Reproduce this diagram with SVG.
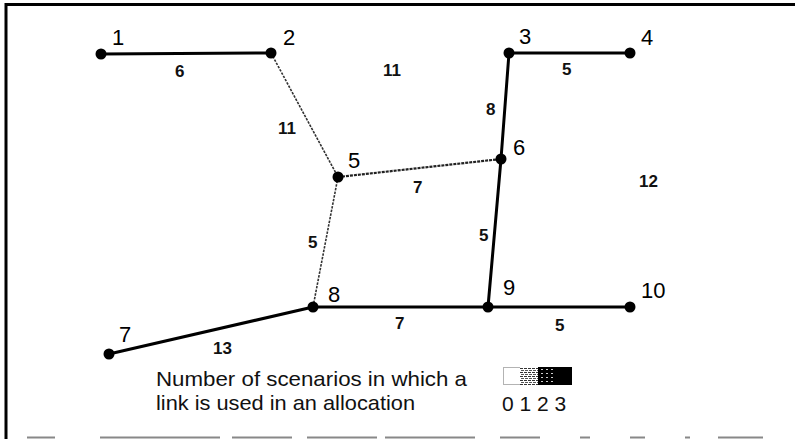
<svg xmlns="http://www.w3.org/2000/svg" width="795" height="439" viewBox="0 0 795 439">
<defs>
<style>
.nl{font-family:"Liberation Sans",Arial,sans-serif;font-size:22px;fill:#000}
.el{font-family:"Liberation Sans",Arial,sans-serif;font-size:17px;font-weight:bold;fill:#111}
.lg{font-family:"Liberation Sans",Arial,sans-serif;font-size:21px;fill:#111}
.e3{stroke:#000;stroke-width:3;fill:none;stroke-linecap:round}
.e2{stroke:#222;stroke-width:2.2;fill:none;stroke-dasharray:3 1}
.e1{stroke:#333;stroke-width:1.6;fill:none;stroke-dasharray:2.5 1.2}
.dot{fill:#000}
</style>
<pattern id="p1" width="4" height="4" patternUnits="userSpaceOnUse">
<rect width="4" height="4" fill="#fff"/>
<rect width="3" height="1" fill="#333"/>
<rect y="2" x="1" width="3" height="1" fill="#555"/>
</pattern>
<pattern id="p2" width="5" height="4" patternUnits="userSpaceOnUse">
<rect width="5" height="4" fill="#000"/>
<rect x="1" y="1" width="2" height="1" fill="#ccc"/>
</pattern>
</defs>
<rect width="795" height="439" fill="#fff"/>
<g id="frame">
<line x1="5" y1="4.5" x2="795" y2="4.5" stroke="#000" stroke-width="3"/>
<line x1="6" y1="3" x2="6" y2="439" stroke="#000" stroke-width="3"/>
<line x1="27" y1="437.5" x2="790" y2="437.5" stroke="#888" stroke-width="2" stroke-dasharray="28 45 120 12 60 15 70 8 90 25 40 40 10 40 15 40 5"/>
</g>
<g id="connectors">
<line id="e1-2" class="e3" x1="101" y1="54" x2="271" y2="53"/>
<line id="e2-5" class="e1" x1="271" y1="53" x2="338" y2="177"/>
<line id="e3-4" class="e3" x1="509" y1="53" x2="630" y2="53"/>
<line id="e3-6" class="e3" x1="509" y1="53" x2="501" y2="159"/>
<line id="e5-6" class="e2" x1="338" y1="177" x2="501" y2="159"/>
<line id="e5-8" class="e1" x1="338" y1="177" x2="313" y2="307"/>
<line id="e6-9" class="e3" x1="501" y1="159" x2="488" y2="307"/>
<line id="e8-9" class="e3" x1="313" y1="307" x2="488" y2="307"/>
<line id="e9-10" class="e3" x1="488" y1="307" x2="630" y2="307"/>
<line id="e7-8" class="e3" x1="109" y1="354" x2="313" y2="307" stroke-width="3.5"/>
</g>
<g id="edge-labels">
<text class="el" x="175" y="77">6</text>
<text class="el" x="383" y="76">11</text>
<text class="el" x="562" y="75">5</text>
<text class="el" x="486" y="115">8</text>
<text class="el" x="278" y="134">11</text>
<text class="el" x="413" y="193">7</text>
<text class="el" x="639" y="187">12</text>
<text class="el" x="308" y="248">5</text>
<text class="el" x="479" y="241">5</text>
<text class="el" x="395" y="329">7</text>
<text class="el" x="213" y="354">13</text>
<text class="el" x="555" y="331">5</text>
</g>
<g id="n1"><circle class="dot" cx="101" cy="54" r="5.5"/><text class="nl" x="112" y="45">1</text></g>
<g id="n2"><circle class="dot" cx="271" cy="53" r="5.5"/><text class="nl" x="283" y="45">2</text></g>
<g id="n3"><circle class="dot" cx="509" cy="53" r="5.5"/><text class="nl" x="519" y="44">3</text></g>
<g id="n4"><circle class="dot" cx="630" cy="53" r="5.5"/><text class="nl" x="641" y="45">4</text></g>
<g id="n5"><circle class="dot" cx="338" cy="177" r="5.5"/><text class="nl" x="348" y="168">5</text></g>
<g id="n6"><circle class="dot" cx="501" cy="159" r="5.5"/><text class="nl" x="513" y="155">6</text></g>
<g id="n7"><circle class="dot" cx="109" cy="354" r="5.5"/><text class="nl" x="119" y="342">7</text></g>
<g id="n8"><circle class="dot" cx="313" cy="307" r="5.5"/><text class="nl" x="328" y="302">8</text></g>
<g id="n9"><circle class="dot" cx="488" cy="307" r="5.5"/><text class="nl" x="503" y="295">9</text></g>
<g id="n10"><circle class="dot" cx="630" cy="307" r="5.5"/><text class="nl" x="641" y="298">10</text></g>
<g id="legend">
<text class="lg" x="156" y="386" textLength="311" lengthAdjust="spacingAndGlyphs">Number of scenarios in which a</text>
<text class="lg" x="156" y="410" textLength="259" lengthAdjust="spacingAndGlyphs">link is used in an allocation</text>
<rect x="503.5" y="367.5" width="17" height="17" fill="#fff" stroke="#666" stroke-width="1" stroke-dasharray="1 1"/>
<rect x="520" y="367" width="18" height="18" fill="url(#p1)"/>
<rect x="538" y="367" width="17" height="18" fill="url(#p2)"/>
<rect x="555" y="367" width="17" height="18" fill="#000"/>
<text class="lg" x="502" y="411" font-size="22">0 1 2 3</text>
</g>
</svg>
